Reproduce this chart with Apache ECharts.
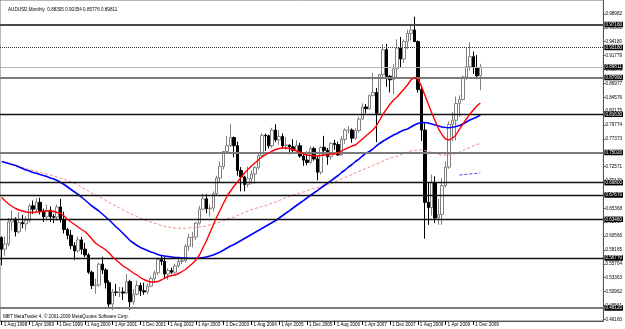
<!DOCTYPE html>
<html><head><meta charset="utf-8">
<script src="https://cdn.jsdelivr.net/npm/echarts@6/dist/echarts.min.js"></script>
<style>html,body{margin:0;padding:0;background:#fff}#c{width:625px;height:329px}</style>
</head><body><div id="c"></div>
<script>
// ---------- data ----------
const MON = ['Jan','Feb','Mar','Apr','May','Jun','Jul','Aug','Sep','Oct','Nov','Dec'];
const firstMonth = {year: 1998, month: 7}; // Aug 1998
const slotCount = 174; // visible bar slots incl. chart shift
const months = [];
for (let i = 0; i < slotCount; i++) {
  const m = firstMonth.month + i;
  months.push('1 ' + MON[m % 12] + ' ' + (firstMonth.year + Math.floor(m / 12)));
}

const open = [0.6030,0.5830,0.5920,0.6300,0.6350,0.6130,0.6290,0.6270,0.6330,0.6580,0.6520,0.6640,0.6490,0.6390,0.6500,0.6390,0.6385,
0.6560,0.6340,0.6170,0.6070,0.5890,0.5800,0.5990,0.5830,0.5730,0.5430,0.5200,0.5210,
0.5570,0.5470,0.5250,0.4880,0.5090,0.5080,0.5090,0.5070,0.5270,0.4920,0.5050,0.5200,
0.5110,0.5090,0.5190,0.5320,0.5420,0.5650,0.5620,0.5400,0.5460,0.5430,0.5540,0.5620,
0.5630,0.5880,0.6030,0.6040,0.6280,0.6520,0.6700,0.6530,0.6540,0.6790,0.7060,0.7260,
0.7520,0.7620,0.7760,0.7620,0.7190,0.7080,0.6950,0.7050,0.7130,0.7240,0.7450,0.7800,
0.7790,0.7620,0.7890,0.7720,0.7780,0.7620,0.7630,0.7600,0.7540,0.7620,0.7440,0.7370,
0.7330,0.7570,0.7390,0.7160,0.7590,0.7540,0.7430,0.7660,0.7640,0.7460,0.7730,0.7890,
0.7890,0.7750,0.7880,0.8080,0.8290,0.8260,0.8490,0.8540,0.8180,0.8850,0.9280,0.8820,
0.8760,0.8950,0.9310,0.9120,0.9420,0.9560,0.9620,0.9420,0.8590,0.7890,0.6640,0.6550,
0.6980,0.6370,0.6430,0.6930,0.7250,0.7990,0.8060,0.8350,0.8420,0.8810,0.8990,0.9160,
0.8970,0.88305];
const high = [0.6050,0.6050,0.6370,0.6500,0.6380,0.6470,0.6420,0.6400,0.6620,0.6670,0.6710,0.6720,0.6530,0.6600,0.6570,0.6440,0.6600,
0.6700,0.6480,0.6200,0.6160,0.5950,0.6050,0.6040,0.5940,0.5760,0.5460,0.5320,0.5600,
0.5700,0.5500,0.5290,0.5140,0.5230,0.5180,0.5170,0.5400,0.5300,0.5140,0.5280,0.5250,
0.5250,0.5230,0.5360,0.5460,0.5680,0.5730,0.5700,0.5500,0.5510,0.5580,0.5690,0.5670,
0.5920,0.6090,0.6130,0.6300,0.6580,0.6790,0.6780,0.6600,0.6830,0.7100,0.7350,0.7530,
0.7790,0.8000,0.7780,0.7690,0.7250,0.7100,0.7260,0.7190,0.7270,0.7480,0.7840,0.7830,
0.7810,0.7930,0.7990,0.7890,0.7830,0.7770,0.7640,0.7730,0.7720,0.7670,0.7490,0.7520,
0.7610,0.7600,0.7440,0.7610,0.7790,0.7580,0.7680,0.7720,0.7690,0.7780,0.7920,0.7960,
0.7920,0.7920,0.8120,0.8350,0.8340,0.8500,0.8880,0.8620,0.8860,0.9380,0.9380,0.8840,
0.9030,0.9460,0.9500,0.9460,0.9630,0.9690,0.9850,0.9440,0.8670,0.8020,0.6990,0.7120,
0.7090,0.6700,0.7060,0.7350,0.8040,0.8200,0.8470,0.8490,0.8830,0.9330,0.9410,0.9250,
0.9190,0.90354];
const low = [0.5550,0.5720,0.5880,0.6150,0.6050,0.6100,0.6190,0.6150,0.6290,0.6440,0.6470,0.6430,0.6300,0.6330,0.6300,0.6280,0.6320,
0.6290,0.6100,0.6000,0.5830,0.5640,0.5770,0.5740,0.5690,0.5400,0.5140,0.5060,0.5180,
0.5400,0.5150,0.4830,0.4775,0.5020,0.5000,0.4950,0.5050,0.4780,0.4870,0.5030,0.5020,
0.5040,0.5050,0.5170,0.5250,0.5380,0.5550,0.5310,0.5300,0.5400,0.5380,0.5510,0.5570,
0.5600,0.5800,0.5860,0.5990,0.6250,0.6510,0.6450,0.6390,0.6490,0.6750,0.6990,0.7210,
0.7480,0.7600,0.7420,0.7100,0.6830,0.6830,0.6900,0.6950,0.6960,0.7210,0.7430,0.7530,
0.7570,0.7580,0.7680,0.7640,0.7570,0.7550,0.7470,0.7490,0.7530,0.7410,0.7270,0.7280,
0.7310,0.7360,0.7020,0.7120,0.7460,0.7290,0.7380,0.7550,0.7440,0.7450,0.7650,0.7830,
0.7670,0.7720,0.7850,0.8070,0.8180,0.8240,0.8470,0.7680,0.8170,0.8770,0.8640,0.8540,
0.8510,0.8800,0.8970,0.9050,0.9290,0.9440,0.9450,0.8540,0.7700,0.6010,0.6250,0.6410,
0.6280,0.6250,0.6250,0.6900,0.7220,0.7700,0.7710,0.8120,0.8400,0.8760,0.8920,0.8860,
0.8770,0.85776];
const close = [0.5830,0.5920,0.6300,0.6350,0.6130,0.6290,0.6270,0.6330,0.6580,0.6520,0.6640,0.6490,0.6390,0.6500,0.6390,0.6385,0.6560,
0.6340,0.6170,0.6070,0.5890,0.5800,0.5990,0.5830,0.5730,0.5430,0.5200,0.5210,0.5570,
0.5470,0.5250,0.4880,0.5090,0.5080,0.5090,0.5070,0.5270,0.4920,0.5050,0.5200,0.5110,
0.5090,0.5190,0.5320,0.5420,0.5650,0.5620,0.5400,0.5460,0.5430,0.5540,0.5620,0.5630,
0.5880,0.6030,0.6040,0.6280,0.6520,0.6700,0.6530,0.6540,0.6790,0.7060,0.7260,0.7520,
0.7620,0.7760,0.7620,0.7190,0.7080,0.6950,0.7050,0.7130,0.7240,0.7450,0.7800,0.7790,
0.7620,0.7890,0.7720,0.7780,0.7620,0.7630,0.7600,0.7540,0.7620,0.7440,0.7370,0.7330,
0.7570,0.7390,0.7160,0.7590,0.7540,0.7430,0.7660,0.7640,0.7460,0.7730,0.7890,0.7890,
0.7750,0.7880,0.8080,0.8290,0.8260,0.8490,0.8540,0.8180,0.8850,0.9280,0.8820,0.8760,
0.8950,0.9310,0.9120,0.9420,0.9560,0.9620,0.9420,0.8590,0.7890,0.6640,0.6550,0.6980,
0.6370,0.6430,0.6930,0.7250,0.7990,0.8060,0.8350,0.8420,0.8810,0.8990,0.9160,0.8970,
0.8830,0.89811];

// moving averages
const maRed = [0.6723,0.6663,0.6611,0.6568,0.6533,0.6507,0.6490,0.6473,0.6464,0.6464,0.6473,0.6478,0.6485,0.6490,0.6490,0.6481,0.6464,
0.6447,0.6403,0.6343,0.6300,0.6256,0.6213,0.6170,0.6135,0.6075,0.6005,0.5936,0.5893,
0.5858,0.5815,0.5763,0.5694,0.5642,0.5590,0.5538,0.5504,0.5460,0.5417,0.5383,0.5339,
0.5305,0.5279,0.5262,0.5262,0.5270,0.5296,0.5331,0.5357,0.5374,0.5383,0.5409,0.5443,
0.5478,0.5530,0.5582,0.5642,0.5729,0.5850,0.5971,0.6109,0.6248,0.6386,0.6507,0.6628,
0.6749,0.6836,0.6922,0.6992,0.7069,0.7147,0.7208,0.7268,0.7320,0.7372,0.7424,0.7459,
0.7493,0.7528,0.7554,0.7571,0.7580,0.7580,0.7571,0.7554,0.7528,0.7507,0.7476,0.7459,
0.7450,0.7441,0.7441,0.7450,0.7459,0.7459,0.7476,0.7476,0.7493,0.7528,0.7562,0.7588,
0.7614,0.7632,0.7684,0.7735,0.7787,0.7839,0.7891,0.7960,0.8064,0.8168,0.8254,0.8341,
0.8410,0.8462,0.8531,0.8600,0.8670,0.8756,0.8799,0.8773,0.8652,0.8497,0.8341,0.8185,
0.8047,0.7908,0.7805,0.7735,0.7718,0.7753,0.7805,0.7908,0.7995,0.8081,0.8168,0.8237,
0.8306,0.8358];
const maBlue = [0.7346,0.7329,0.7312,0.7294,0.7277,0.7251,0.7225,0.7199,0.7182,0.7156,0.7142,0.7121,0.7104,0.7087,0.7061,0.7043,0.7017,
0.6983,0.6948,0.6905,0.6862,0.6819,0.6775,0.6732,0.6680,0.6628,0.6576,0.6533,0.6490,
0.6438,0.6386,0.6334,0.6274,0.6213,0.6161,0.6101,0.6040,0.5979,0.5936,0.5893,0.5858,
0.5832,0.5806,0.5781,0.5763,0.5737,0.5720,0.5711,0.5703,0.5694,0.5685,0.5685,0.5677,
0.5677,0.5672,0.5672,0.5672,0.5677,0.5685,0.5694,0.5711,0.5729,0.5755,0.5781,0.5815,
0.5850,0.5884,0.5910,0.5945,0.5979,0.6014,0.6049,0.6083,0.6118,0.6152,0.6187,0.6222,
0.6256,0.6291,0.6325,0.6369,0.6412,0.6455,0.6498,0.6542,0.6585,0.6628,0.6671,0.6715,
0.6758,0.6801,0.6844,0.6888,0.6931,0.6974,0.7017,0.7061,0.7104,0.7156,0.7199,0.7251,
0.7294,0.7346,0.7389,0.7441,0.7485,0.7519,0.7562,0.7614,0.7658,0.7701,0.7735,0.7770,
0.7805,0.7831,0.7865,0.7891,0.7908,0.7943,0.7978,0.8004,0.8021,0.8021,0.8012,0.7995,
0.7978,0.7960,0.7943,0.7934,0.7931,0.7938,0.7952,0.7969,0.7995,0.8030,0.8064,0.8090,
0.8116,0.8151];
const maPink = [0.7346,0.7329,0.7312,0.7294,0.7277,0.7260,0.7242,0.7225,0.7208,0.7191,0.7173,0.7156,0.7139,0.7125,0.7113,0.7095,0.7078,
0.7061,0.7038,0.7017,0.6992,0.6966,0.6940,0.6905,0.6870,0.6836,0.6801,0.6767,0.6741,
0.6706,0.6671,0.6637,0.6602,0.6576,0.6542,0.6507,0.6481,0.6447,0.6421,0.6395,0.6369,
0.6343,0.6317,0.6300,0.6282,0.6265,0.6239,0.6222,0.6213,0.6204,0.6196,0.6191,0.6191,
0.6191,0.6196,0.6204,0.6208,0.6213,0.6222,0.6230,0.6248,0.6265,0.6282,0.6300,0.6325,
0.6352,0.6369,0.6386,0.6412,0.6438,0.6464,0.6490,0.6516,0.6533,0.6550,0.6568,0.6585,
0.6602,0.6628,0.6645,0.6671,0.6697,0.6723,0.6749,0.6767,0.6784,0.6801,0.6818,0.6844,
0.6862,0.6879,0.6896,0.6914,0.6931,0.6948,0.6966,0.6992,0.7017,0.7043,0.7069,0.7095,
0.7121,0.7147,0.7173,0.7199,0.7225,0.7251,0.7277,0.7303,0.7329,0.7355,0.7381,0.7407,
0.7424,0.7433,0.7459,0.7493,0.7510,0.7528,0.7536,0.7545,0.7545,0.7536,0.7519,0.7502,
0.7485,0.7467,0.7459,0.7459,0.7459,0.7467,0.7485,0.7510,0.7536,0.7562,0.7588,0.7614,
0.7640,0.7658];
const maBlueDashFrom = '1 Aug 2009';
const maBlueDash = [0.7113,0.7118,0.7125,0.7130,0.7135,0.7142,0.7147];

// horizontal levels drawn on the chart
const levelPrices = [0.9716,0.9318,0.89811,0.8799,0.8163,0.7502,0.6980,0.6767,0.6346,0.5677,0.4812];
// price scale labels
const yTicks = [0.46160,0.48561,0.50962,0.53363,0.55764,0.58165,0.60566,0.62967,0.65368,0.67769,0.70170,0.72571,0.74972,0.77373,0.79774,0.82175,0.84576,0.86977,0.89378,0.91779,0.94180,0.96581,0.98982];
const yRange = {min: 0.4587, max: 1.0140};

const header = 'AUDUSD,Monthly  0.88305 0.90354 0.85776 0.89811';
const footer = 'MBT MetaTrader 4, \u00a9 2001-2009 MetaQuotes Software Corp.';

// ---------- styles ----------
const levelStyles = [
  {color:'#4a4a4a', width:2, type:'solid'},
  {color:'#333333', width:1, type:'dotted'},
  {color:'#b4b4b4', width:1, type:'solid'},
  {color:'#7a7a7a', width:2, type:'solid'},
  {color:'#111111', width:1.3, type:'solid'},
  {color:'#7a7a7a', width:2, type:'solid'},
  {color:'#111111', width:1.3, type:'solid'},
  {color:'#111111', width:1.3, type:'solid'},
  {color:'#111111', width:1.3, type:'solid'},
  {color:'#111111', width:1.3, type:'solid'},
  {color:'#7a7a7a', width:2, type:'solid'}
];
const FS = 4.6;
const FONT = 'Liberation Sans, Arial, sans-serif';

const candles = open.map((o, i) => [o, close[i], low[i], high[i]]);
const dashStart = months.indexOf(maBlueDashFrom);
const blueDashData = months.slice(0, dashStart + maBlueDash.length).map((m, i) => i < dashStart ? null : maBlueDash[i - dashStart]);
const labelInterval = (idx) => idx % 8 === 0 && idx <= 136;

const chart = echarts.init(document.getElementById('c'), null, {renderer: 'canvas'});
chart.setOption({
  animation: false,
  backgroundColor: '#ffffff',
  textStyle: {fontFamily: FONT},
  title: {text: header, left: 3, top: 2, textStyle: {fontSize: FS, fontWeight: 'normal', color: '#000', fontFamily: FONT}},
  graphic: [{type: 'text', left: 3, top: 314, style: {text: footer, fontSize: FS, fill: '#000', font: FS + 'px ' + FONT}}],
  grid: {left: 0, right: 17, top: 0, bottom: 8, show: true, borderColor: '#707070', borderWidth: 1, backgroundColor: '#fff'},
  xAxis: {
    type: 'category', data: months, boundaryGap: true,
    axisLine: {show: true, lineStyle: {color: '#555', width: 1}},
    axisTick: {show: true, interval: labelInterval, alignWithLabel: true, length: 4, lineStyle: {color: '#000'}},
    axisLabel: {interval: labelInterval, align: 'left', fontSize: FS, color: '#000', margin: 1, padding: [0, 0, 0, 2], fontFamily: FONT},
    splitLine: {show: false}
  },
  yAxis: {
    type: 'value', position: 'right', min: yRange.min, max: yRange.max,
    axisLine: {show: true, lineStyle: {color: '#555'}},
    axisTick: {show: true, customValues: yTicks, length: 2, lineStyle: {color: '#555'}},
    axisLabel: {customValues: yTicks, formatter: v => v.toFixed(5), fontSize: FS, color: '#000', margin: 2, fontFamily: FONT},
    splitLine: {show: false}
  },
  series: [
    {
      type: 'candlestick', data: candles, barWidth: 3, z: 2,
      itemStyle: {color: '#ffffff', color0: '#000000', borderColor: '#808080', borderColor0: '#000000', borderWidth: 1},
      markLine: {
        silent: true, symbol: 'none', precision: 5,
        data: levelPrices.map((p, i) => ({
          yAxis: p,
          lineStyle: levelStyles[i],
          label: {show: true, position: 'end', distance: 1, formatter: p.toFixed(5), color: '#fff', backgroundColor: '#000', fontSize: FS, padding: [0.5, 1, 0, 1], fontFamily: FONT}
        }))
      }
    },
    {type: 'line', data: maPink, symbol: 'none', z: 3, lineStyle: {color: '#f08a8a', width: 1, type: [3, 2]}},
    {type: 'line', data: blueDashData, symbol: 'none', z: 3, lineStyle: {color: '#3c3cff', width: 1, type: [3, 2]}},
    {type: 'line', data: maBlue, symbol: 'none', z: 4, lineStyle: {color: '#0000ff', width: 1.6}},
    {type: 'line', data: maRed, symbol: 'none', z: 5, lineStyle: {color: '#ff0000', width: 1.4}}
  ]
});
</script>
</body></html>
